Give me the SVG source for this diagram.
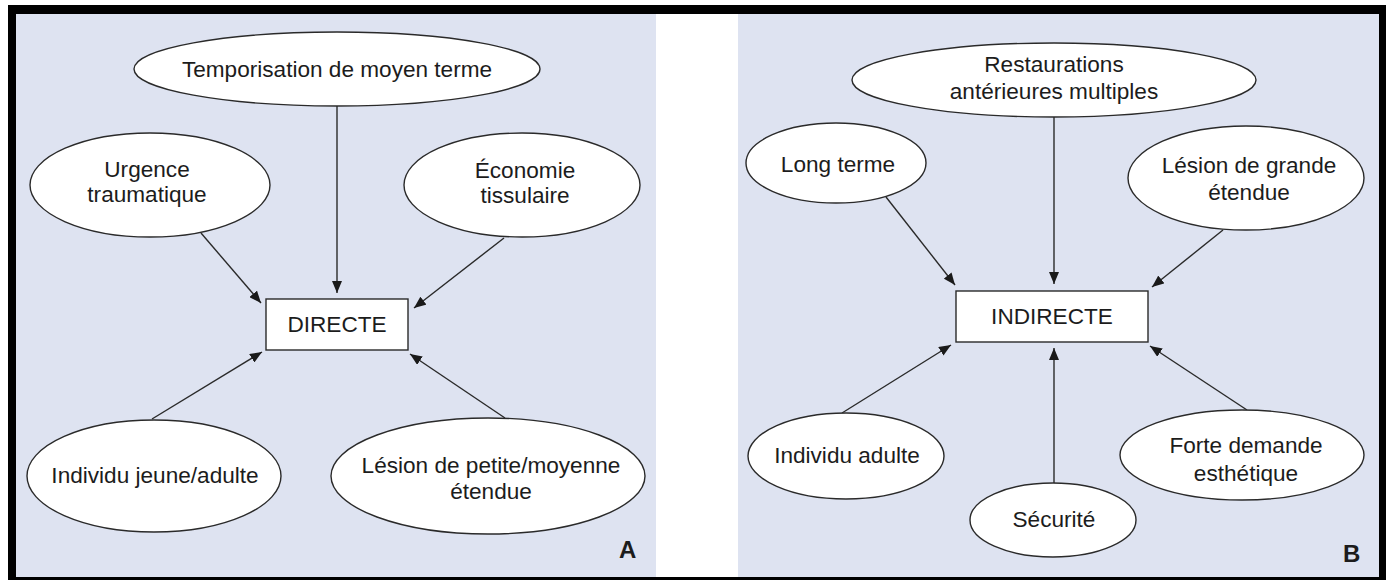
<svg xmlns="http://www.w3.org/2000/svg" width="1391" height="580" viewBox="0 0 1391 580">
<defs>
<style>
.node ellipse{fill:#fff;stroke:#2a2a2a;stroke-width:1.4}
.node rect{fill:#fff;stroke:#2a2a2a;stroke-width:1.4}
text{font-family:"Liberation Sans",Arial,sans-serif;font-size:22.6px;fill:#1c1c1c;text-anchor:middle}
.lbl{font-weight:bold;font-size:24px;text-anchor:start}
.edges line{stroke:#2a2a2a;stroke-width:1.4;marker-end:url(#ah)}
</style>
<marker id="ah" markerUnits="userSpaceOnUse" viewBox="0 0 12 10" refX="12" refY="5" markerWidth="12" markerHeight="10" orient="auto">
<path d="M0,0 L12,5 L0,10 Z" fill="#1a1a1a"/>
</marker>
</defs>
<rect x="0" y="0" width="1391" height="580" fill="#fff"/>
<rect x="8" y="5" width="1378" height="575" fill="#000"/>
<rect x="16" y="14" width="640" height="563" fill="#dee3f1"/>
<rect x="656" y="14" width="82" height="563" fill="#fff"/>
<rect x="738" y="14" width="641" height="563" fill="#dee3f1"/>

<g class="edges">
<line x1="337" y1="106" x2="337" y2="293"/>
<line x1="201" y1="233" x2="261" y2="303"/>
<line x1="504" y1="238" x2="414" y2="308"/>
<line x1="152" y1="419" x2="262" y2="352"/>
<line x1="505" y1="418" x2="410" y2="354"/>
<line x1="1054" y1="117" x2="1054" y2="284"/>
<line x1="886" y1="197" x2="955" y2="285"/>
<line x1="1223" y1="230" x2="1152" y2="287"/>
<line x1="842" y1="413" x2="951" y2="345"/>
<line x1="1054" y1="484" x2="1054" y2="348"/>
<line x1="1247" y1="410" x2="1150" y2="346"/>
</g>

<g id="temporisation" class="node"><ellipse cx="337" cy="69" rx="203" ry="37"/><text x="337" y="77">Temporisation de moyen terme</text></g>
<g id="urgence" class="node"><ellipse cx="150" cy="185" rx="120" ry="52"/><text x="147" y="177">Urgence</text><text x="147" y="202">traumatique</text></g>
<g id="economie" class="node"><ellipse cx="522" cy="185" rx="118" ry="52"/><text x="525" y="178">Économie</text><text x="525" y="203">tissulaire</text></g>
<g id="directe" class="node"><rect x="266" y="299" width="142" height="51"/><text x="337" y="332">DIRECTE</text></g>
<g id="individu-jeune" class="node"><ellipse cx="154" cy="476" rx="127" ry="56"/><text x="155" y="483">Individu jeune/adulte</text></g>
<g id="lesion-petite" class="node"><ellipse cx="488" cy="476" rx="157" ry="58"/><text x="491" y="473">Lésion de petite/moyenne</text><text x="491" y="499">étendue</text></g>
<text class="lbl" x="619" y="558">A</text>

<g id="restaurations" class="node"><ellipse cx="1054" cy="80" rx="202" ry="37"/><text x="1054" y="72">Restaurations</text><text x="1054" y="99">antérieures multiples</text></g>
<g id="long-terme" class="node"><ellipse cx="836" cy="163" rx="90" ry="40"/><text x="838" y="172">Long terme</text></g>
<g id="lesion-grande" class="node"><ellipse cx="1246" cy="178" rx="118" ry="52"/><text x="1249" y="173">Lésion de grande</text><text x="1249" y="200">étendue</text></g>
<g id="indirecte" class="node"><rect x="956" y="291" width="192" height="51"/><text x="1052" y="324">INDIRECTE</text></g>
<g id="individu-adulte" class="node"><ellipse cx="846" cy="456" rx="98" ry="43"/><text x="847" y="463">Individu adulte</text></g>
<g id="securite" class="node"><ellipse cx="1053" cy="520" rx="83" ry="37"/><text x="1054" y="527">Sécurité</text></g>
<g id="forte-demande" class="node"><ellipse cx="1242" cy="455" rx="122" ry="45"/><text x="1246" y="453">Forte demande</text><text x="1246" y="481">esthétique</text></g>
<text class="lbl" x="1343" y="562">B</text>
</svg>
